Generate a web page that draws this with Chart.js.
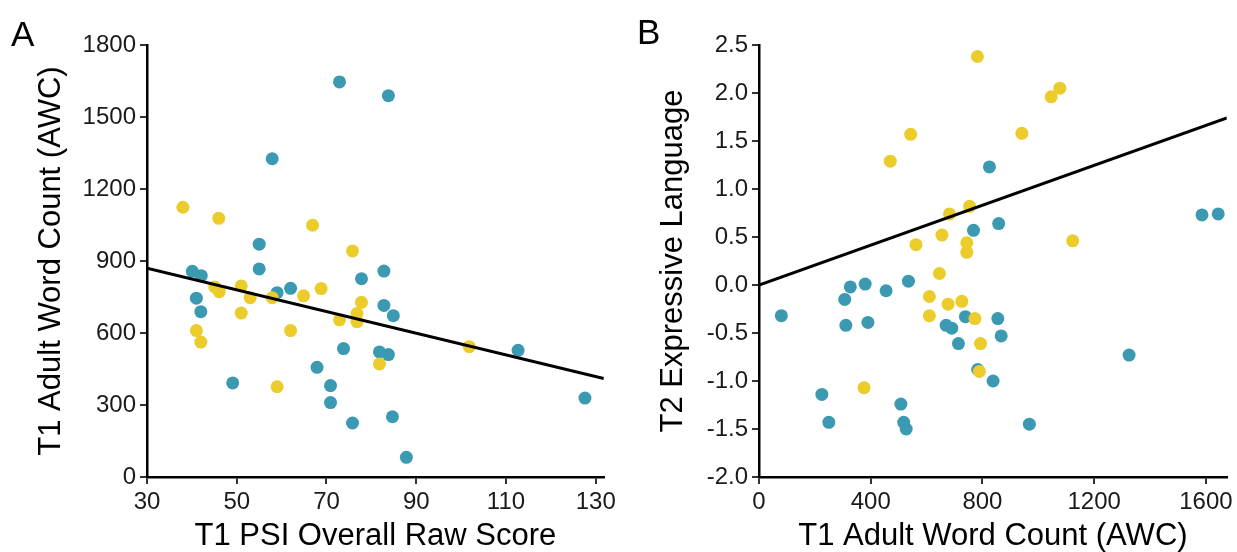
<!DOCTYPE html>
<html>
<head>
<meta charset="utf-8">
<script src="https://cdn.jsdelivr.net/npm/chart.js@4.4.1/dist/chart.umd.min.js"></script>
<style>
  body { margin: 0; background: #fff; width: 1237px; height: 552px; position: relative; overflow: hidden;
         font-family: "Liberation Sans", Arial, sans-serif; }
  canvas { position: absolute; top: 0; }
  #chartA { left: 0; }
  #chartB { left: 620px; }
  .tag { position: absolute; font-size: 35px; line-height: 1; color: #000; }
</style>
</head>
<body>
<canvas id="chartA" width="620" height="552"></canvas>
<canvas id="chartB" width="617" height="552"></canvas>
<div class="tag" style="left:11px;top:16px">A</div>
<div class="tag" style="left:637px;top:14px">B</div>
<script>
'use strict';
// panel A: PSI score vs adult word count
const psiTeal = [72.9, 83.8, 57.9, 55, 55, 40.1, 42.1, 77.8, 82.8, 62, 59, 41, 42, 82.8, 84.9, 73.8, 81.8, 83.8, 112.7, 67.9, 49.1, 70.9, 70.9, 75.8, 84.7, 87.8, 127.6];
const awcTealA = [1646, 1589, 1326, 970, 867, 857, 839, 826, 858, 786, 768, 745, 689, 715, 672, 535, 521, 510, 528, 457, 392, 381, 310, 225, 251, 82, 329];
const psiYellow = [38, 46, 66.9, 75.8, 45.1, 46.1, 51, 53, 57.9, 64.9, 68.8, 77.8, 51, 76.8, 72.9, 76.8, 41, 42, 62, 81.8, 101.8, 59];
const awcYellowA = [1124, 1078, 1049, 942, 792, 772, 796, 747, 747, 755, 785, 728, 683, 681, 655, 647, 610, 562, 610, 471, 543, 376];
const fitA = [[30, 870], [131.8, 410]];
const xTicksA = [30, 50, 70, 90, 110, 130];
const yTicksA = [0, 300, 600, 900, 1200, 1500, 1800];

// panel B: adult word count vs expressive language
const awcTealB = [1644, 1586, 1325, 968, 867, 855, 858, 825, 768, 739, 783, 838, 714, 690, 670, 535, 527, 518, 508, 455, 390, 380, 327, 311, 307, 250, 225, 80];
const langTeal = [0.74, 0.73, -0.73, -1.45, -0.53, -0.35, 0.64, 1.23, 0.57, -0.33, -0.88, -1.00, -0.61, -0.45, -0.42, 0.04, -1.50, -1.43, -1.24, -0.06, -0.39, 0.01, -0.02, -0.42, -0.15, -1.43, -1.14, -0.32];
const awcYellowB = [782, 543, 470, 754, 682, 655, 562, 744, 744, 646, 610, 677, 726, 610, 773, 793, 789, 376, 1077, 1046, 941, 1123];
const langYellow = [2.38, 1.57, 1.29, 0.82, 0.74, 0.52, 0.42, 0.44, 0.34, 0.12, -0.12, -0.20, -0.17, -0.32, -0.35, -0.61, -0.90, -1.07, 2.05, 1.96, 1.58, 0.46];
const fitB = [[0, 0.0], [1675, 1.74]];
const xTicksB = [0, 400, 800, 1200, 1600];
const yTicksB = [-2, -1.5, -1, -0.5, 0, 0.5, 1, 1.5, 2, 2.5];

const TEAL = '#3B9AB2', YELLOW = '#EBCC2A';
Chart.defaults.font.family = '"Liberation Sans", Arial, sans-serif';

const pts = (xs, ys) => xs.map((x, i) => ({x, y: ys[i]}));

function scale(min, max, tickVals, title, fit, titlePad, fmt) {
  return {
    type: 'linear', min, max,
    afterBuildTicks: s => { s.ticks = tickVals.map(v => ({value: v})); },
    ticks: { autoSkip: false, maxRotation: 0, font: { size: 24 }, color: '#1a1a1a', padding: 4,
             callback: fmt || (v => String(v)) },
    grid: { drawOnChartArea: false, drawTicks: true, tickLength: 7, color: '#333', lineWidth: 2 },
    border: { display: true, color: '#000', width: 2.5 },
    title: { display: true, text: title, color: '#000', font: { size: 31, lineHeight: 1 }, padding: titlePad },
    afterFit: fit
  };
}

function panel(id, teal, yellow, fit, xs, ys) {
  new Chart(document.getElementById(id), {
    type: 'scatter',
    data: { datasets: [
      { data: fit.map(p => ({x: p[0], y: p[1]})), showLine: true, pointRadius: 0,
        borderColor: '#000', borderWidth: 3, order: 0 },
      { data: yellow, backgroundColor: YELLOW, pointRadius: 6.5, borderWidth: 0, order: 1 },
      { data: teal, backgroundColor: TEAL, pointRadius: 6.5, borderWidth: 0, order: 2 }
    ]},
    options: {
      responsive: false, animation: false, devicePixelRatio: 1,
      layout: { padding: { top: 45, right: xs.padRight, bottom: 0, left: 0 } },
      plugins: { legend: { display: false }, tooltip: { enabled: false } },
      scales: { x: xs.cfg, y: ys.cfg }
    }
  });
}

panel('chartA', pts(psiTeal, awcTealA), pts(psiYellow, awcYellowA), fitA,
  { padRight: 15, cfg: scale(30, 131.8, xTicksA, 'T1 PSI Overall Raw Score', s => { s.height = 75; }, { top: 0, bottom: 0 }) },
  { cfg: scale(0, 1800, yTicksA, 'T1 Adult Word Count (AWC)', s => { s.width = 147; }, { top: 36, bottom: 0 }) });

panel('chartB', pts(awcTealB, langTeal), pts(awcYellowB, langYellow), fitB,
  { padRight: 9, cfg: scale(0, 1675, xTicksB, 'T1 Adult Word Count (AWC)', s => { s.height = 75; }, { top: 0, bottom: 0 }) },
  { cfg: scale(-2, 2.5, yTicksB, 'T2 Expressive Language', s => { s.width = 139; }, { top: 38, bottom: 0 }, v => v.toFixed(1)) });
</script>
</body>
</html>
